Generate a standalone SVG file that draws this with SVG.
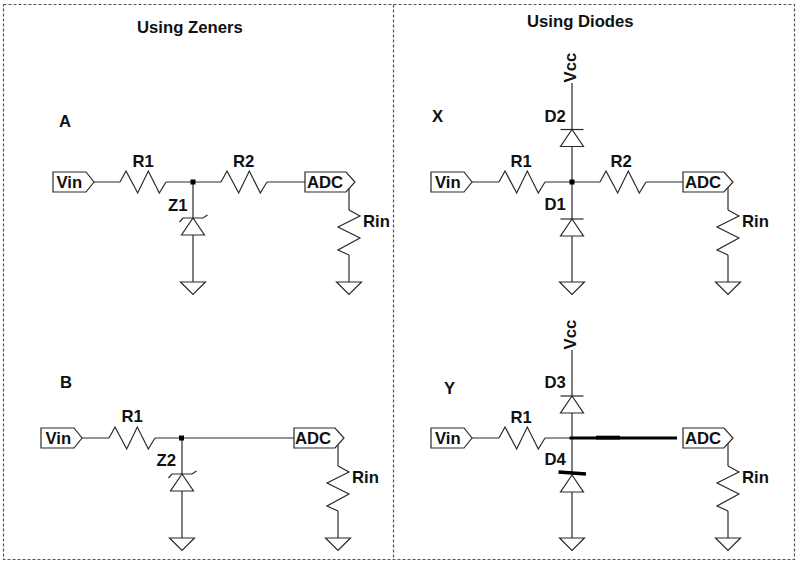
<svg xmlns="http://www.w3.org/2000/svg" width="800" height="564" viewBox="0 0 800 564">
<style>
.w{fill:none;stroke:#2a2a2a;stroke-width:1.2;stroke-linejoin:miter}
.f{fill:#fff;stroke:#2a2a2a;stroke-width:1.2}
.b{fill:none;stroke:#555;stroke-width:1.2;stroke-dasharray:3 2}
.h{fill:none;stroke:#000;stroke-width:3.4;stroke-linecap:butt}
.j{fill:#000}
text{font-family:"Liberation Sans",Arial,sans-serif;font-weight:700;font-size:16.7px;fill:#111}
</style>
<defs>
<path id="res" class="w" d="M0 0L6 -11L17.700 11L28.300 -11L39.300 11L46 0"/>
<path id="rinz" class="w" d="M0 0L11 6L-11 17L11 28L-11 40L0 45"/>
<path id="gnd" class="f" d="M-12.500 0H12.500L0 12.500Z"/>
<path id="diode" class="f" d="M0 0L11.500 17H-11.500Z"/>
<path id="vin" class="f" d="M0 -10H33L41 0L33 10H0Z"/>
<path id="adc" class="f" d="M0 -10H41L50 0L41 10H0Z"/>
</defs>
<g id="frame">
<rect class="b" x="3.500" y="4.500" width="791" height="555"/>
<line class="b" x1="393.500" y1="4.500" x2="393.500" y2="559.500"/>
</g>
<g id="connectors">
<path class="w" d="M93 182H120M166 182H221M267 182H305M349 185V210M349 255V282M193 182V282"/>
<path class="w" d="M472 182H499M545 182H600M646 182H684M728 185V210M728 255V282M572 83V282"/>
<path class="w" d="M82 438H109M155 438H294M338 441V466M338 511V538M182 438V538"/>
<path class="w" d="M472 438H499M545 438H572M728 441V466M728 511V538M572 350V538"/>
<path class="h" d="M569.500 438H677" style="stroke-width:3.200"/>
<path class="h" d="M596 437.600H620" style="stroke-width:3.800"/>
</g>
<g id="panel-a">
<g id="a-vin"><use href="#vin" x="53" y="182"/><text x="56.500" y="188">Vin</text></g>
<g id="a-r1"><use href="#res" x="120" y="182"/><text x="132.500" y="167">R1</text></g>
<g id="a-r2"><use href="#res" x="221" y="182"/><text x="233" y="167">R2</text></g>
<rect class="j" x="190.500" y="179.500" width="5" height="5"/>
<g id="a-z1"><use href="#diode" x="193" y="218"/><path class="w" d="M179.500 222L183 218H203L207.500 215"/><text x="168" y="211">Z1</text></g>
<g id="a-adc"><use href="#adc" x="305" y="182"/><text x="307" y="188">ADC</text></g>
<g id="a-rin"><use href="#rinz" x="349" y="210"/><text x="363" y="227">Rin</text></g>
<use id="a-g1" href="#gnd" x="193" y="282"/>
<use id="a-g2" href="#gnd" x="349" y="282"/>
<text id="a-label" x="59" y="127">A</text>
</g>
<g id="panel-b">
<g id="b-vin"><use href="#vin" x="41" y="438"/><text x="45.500" y="443.500">Vin</text></g>
<g id="b-r1"><use href="#res" x="109" y="438"/><text x="121.500" y="422">R1</text></g>
<rect class="j" x="179" y="435.500" width="5" height="5"/>
<g id="b-z2"><use href="#diode" x="182" y="474"/><path class="w" d="M168.500 478L172 474H192L196.500 471"/><text x="156.500" y="466">Z2</text></g>
<g id="b-adc"><use href="#adc" x="294" y="438"/><text x="295" y="443.500">ADC</text></g>
<g id="b-rin"><use href="#rinz" x="338" y="466"/><text x="352" y="483">Rin</text></g>
<use id="b-g1" href="#gnd" x="182" y="538"/>
<use id="b-g2" href="#gnd" x="338" y="538"/>
<text id="b-label" x="60" y="387.500">B</text>
</g>
<g id="panel-x">
<g id="x-vin"><use href="#vin" x="431" y="182"/><text x="435" y="188">Vin</text></g>
<g id="x-r1"><use href="#res" x="499" y="182"/><text x="510.500" y="167">R1</text></g>
<g id="x-r2"><use href="#res" x="600" y="182"/><text x="610.500" y="167">R2</text></g>
<rect class="j" x="569.500" y="179.500" width="5" height="5"/>
<g id="x-d1"><use href="#diode" x="572" y="219"/><path class="w" d="M560.500 219H583.500"/><text x="544.500" y="210">D1</text></g>
<g id="x-d2"><use href="#diode" x="572" y="129.500"/><path class="w" d="M560.500 129.500H583.500"/><text x="544.500" y="122">D2</text></g>
<text id="x-vcc" transform="translate(576 82.500) rotate(-90)">Vcc</text>
<g id="x-adc"><use href="#adc" x="683" y="182"/><text x="685" y="188">ADC</text></g>
<g id="x-rin"><use href="#rinz" x="728" y="210"/><text x="742" y="227">Rin</text></g>
<use id="x-g1" href="#gnd" x="572" y="282"/>
<use id="x-g2" href="#gnd" x="728" y="282"/>
<text id="x-label" x="432" y="122">X</text>
</g>
<g id="panel-y">
<g id="y-vin"><use href="#vin" x="431" y="438"/><text x="435" y="443.500">Vin</text></g>
<g id="y-r1"><use href="#res" x="499" y="438"/><text x="510.500" y="422.500">R1</text></g>
<g id="y-d3"><use href="#diode" x="572" y="396"/><path class="w" d="M560.500 396H583.500"/><text x="544.500" y="388">D3</text></g>
<g id="y-d4"><use href="#diode" x="572" y="475"/><path class="h" d="M558.500 472L586 474"/><text x="544.500" y="465">D4</text></g>
<text id="y-vcc" transform="translate(576 349.500) rotate(-90)">Vcc</text>
<g id="y-adc"><use href="#adc" x="683" y="438"/><text x="685" y="443.500">ADC</text></g>
<g id="y-rin"><use href="#rinz" x="728" y="466"/><text x="742" y="482.500">Rin</text></g>
<use id="y-g1" href="#gnd" x="572" y="538"/>
<use id="y-g2" href="#gnd" x="728" y="538"/>
<text id="y-label" x="444" y="393.500">Y</text>
</g>
<text id="title-zeners" x="137" y="33">Using Zeners</text>
<text id="title-diodes" x="527" y="27">Using Diodes</text>
</svg>
